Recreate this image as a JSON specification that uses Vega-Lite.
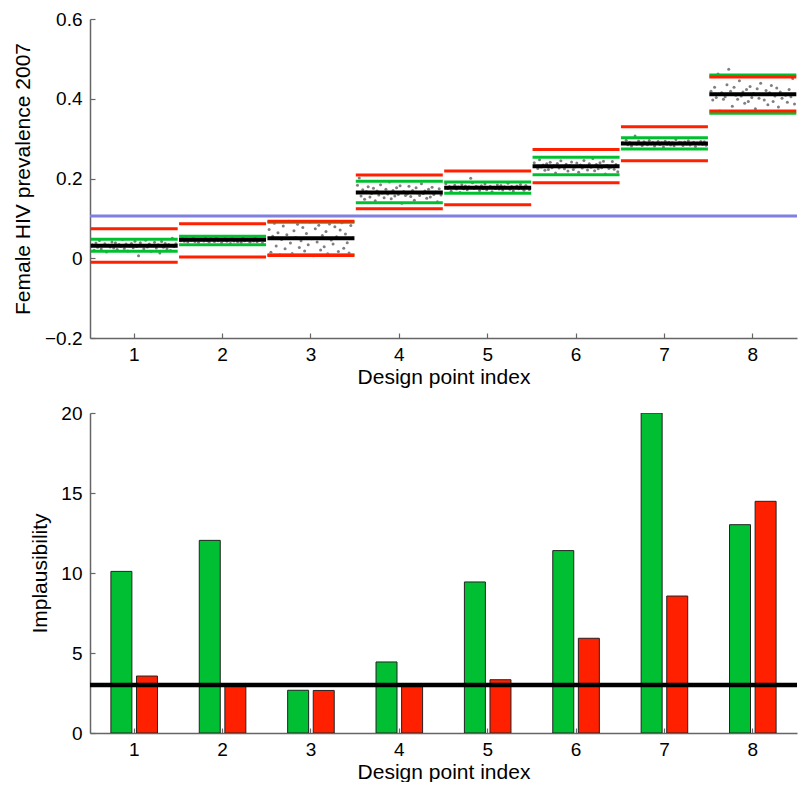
{
  "$schema": "https://vega.github.io/schema/vega-lite/v6.json",
  "padding": {"left": 12, "top": 10, "right": 0, "bottom": 0},
  "background": "white",
  "config": {
    "font": "Liberation Sans",
    "view": {"stroke": null},
    "axis": {
      "grid": false,
      "labelFontSize": 19,
      "titleFontSize": 21,
      "titleFontWeight": "normal",
      "labelColor": "black",
      "titleColor": "black",
      "domainColor": "#666666",
      "tickColor": "#666666",
      "domainWidth": 1.5,
      "tickWidth": 1.2,
      "labelFont": "Liberation Sans",
      "titleFont": "Liberation Sans"
    }
  },
  "datasets": {
    "pts": [
      {"dp":1,"jx":-0.49,"y":0.0337},{"dp":1,"jx":-0.469,"y":0.0202},{"dp":1,"jx":-0.448,"y":0.0382},{"dp":1,"jx":-0.428,"y":0.0274},{"dp":1,"jx":-0.407,"y":0.0445},{"dp":1,"jx":-0.386,"y":0.0229},{"dp":1,"jx":-0.365,"y":0.0319},{"dp":1,"jx":-0.344,"y":0.0364},{"dp":1,"jx":-0.324,"y":0.0157},{"dp":1,"jx":-0.303,"y":0.0328},{"dp":1,"jx":-0.282,"y":0.0283},{"dp":1,"jx":-0.261,"y":0.0409},{"dp":1,"jx":-0.24,"y":0.0256},{"dp":1,"jx":-0.22,"y":0.0391},{"dp":1,"jx":-0.199,"y":0.022},{"dp":1,"jx":-0.178,"y":0.0346},{"dp":1,"jx":-0.157,"y":0.0301},{"dp":1,"jx":-0.136,"y":0.0472},{"dp":1,"jx":-0.116,"y":0.0247},{"dp":1,"jx":-0.095,"y":0.0355},{"dp":1,"jx":-0.074,"y":0.0184},{"dp":1,"jx":-0.053,"y":0.031},{"dp":1,"jx":-0.032,"y":0.0373},{"dp":1,"jx":-0.012,"y":0.0265},{"dp":1,"jx":0.009,"y":0.0427},{"dp":1,"jx":0.03,"y":0.0292},{"dp":1,"jx":0.051,"y":0.0065},{"dp":1,"jx":0.072,"y":0.0391},{"dp":1,"jx":0.092,"y":0.0328},{"dp":1,"jx":0.113,"y":0.0238},{"dp":1,"jx":0.134,"y":0.0454},{"dp":1,"jx":0.155,"y":0.0283},{"dp":1,"jx":0.176,"y":0.0355},{"dp":1,"jx":0.196,"y":0.0175},{"dp":1,"jx":0.217,"y":0.0319},{"dp":1,"jx":0.238,"y":0.04},{"dp":1,"jx":0.259,"y":0.0256},{"dp":1,"jx":0.28,"y":0.0337},{"dp":1,"jx":0.3,"y":0.013},{"dp":1,"jx":0.321,"y":0.0418},{"dp":1,"jx":0.342,"y":0.0274},{"dp":1,"jx":0.363,"y":0.0373},{"dp":1,"jx":0.384,"y":0.0229},{"dp":1,"jx":0.404,"y":0.0346},{"dp":1,"jx":0.425,"y":0.0193},{"dp":1,"jx":0.446,"y":0.0499},{"dp":1,"jx":0.467,"y":0.0292},{"dp":1,"jx":0.488,"y":0.0364},
      {"dp":2,"jx":-0.49,"y":0.0438},{"dp":2,"jx":-0.469,"y":0.0494},{"dp":2,"jx":-0.448,"y":0.0426},{"dp":2,"jx":-0.428,"y":0.0486},{"dp":2,"jx":-0.407,"y":0.041},{"dp":2,"jx":-0.386,"y":0.0466},{"dp":2,"jx":-0.365,"y":0.0446},{"dp":2,"jx":-0.344,"y":0.0522},{"dp":2,"jx":-0.324,"y":0.0422},{"dp":2,"jx":-0.303,"y":0.047},{"dp":2,"jx":-0.282,"y":0.0394},{"dp":2,"jx":-0.261,"y":0.045},{"dp":2,"jx":-0.24,"y":0.0478},{"dp":2,"jx":-0.22,"y":0.043},{"dp":2,"jx":-0.199,"y":0.0502},{"dp":2,"jx":-0.178,"y":0.0442},{"dp":2,"jx":-0.157,"y":0.0406},{"dp":2,"jx":-0.136,"y":0.0486},{"dp":2,"jx":-0.116,"y":0.0458},{"dp":2,"jx":-0.095,"y":0.0418},{"dp":2,"jx":-0.074,"y":0.0514},{"dp":2,"jx":-0.053,"y":0.0438},{"dp":2,"jx":-0.032,"y":0.047},{"dp":2,"jx":-0.012,"y":0.039},{"dp":2,"jx":0.009,"y":0.0454},{"dp":2,"jx":0.03,"y":0.049},{"dp":2,"jx":0.051,"y":0.0426},{"dp":2,"jx":0.072,"y":0.0462},{"dp":2,"jx":0.092,"y":0.037},{"dp":2,"jx":0.113,"y":0.0498},{"dp":2,"jx":0.134,"y":0.0434},{"dp":2,"jx":0.155,"y":0.0478},{"dp":2,"jx":0.176,"y":0.0414},{"dp":2,"jx":0.196,"y":0.0466},{"dp":2,"jx":0.217,"y":0.0398},{"dp":2,"jx":0.238,"y":0.0534},{"dp":2,"jx":0.259,"y":0.0442},{"dp":2,"jx":0.28,"y":0.0474},{"dp":2,"jx":0.3,"y":0.0462},{"dp":2,"jx":0.321,"y":0.0402},{"dp":2,"jx":0.342,"y":0.0482},{"dp":2,"jx":0.363,"y":0.0434},{"dp":2,"jx":0.384,"y":0.051},{"dp":2,"jx":0.404,"y":0.0414},{"dp":2,"jx":0.425,"y":0.0454},{"dp":2,"jx":0.446,"y":0.0474},{"dp":2,"jx":0.467,"y":0.0382},{"dp":2,"jx":0.488,"y":0.0458},
      {"dp":3,"jx":-0.49,"y":0.072},{"dp":3,"jx":-0.469,"y":0.015},{"dp":3,"jx":-0.448,"y":0.055},{"dp":3,"jx":-0.428,"y":0.088},{"dp":3,"jx":-0.407,"y":0.031},{"dp":3,"jx":-0.386,"y":0.064},{"dp":3,"jx":-0.365,"y":0.009},{"dp":3,"jx":-0.344,"y":0.047},{"dp":3,"jx":-0.324,"y":0.081},{"dp":3,"jx":-0.303,"y":0.024},{"dp":3,"jx":-0.282,"y":0.059},{"dp":3,"jx":-0.261,"y":0.093},{"dp":3,"jx":-0.24,"y":0.038},{"dp":3,"jx":-0.22,"y":0.012},{"dp":3,"jx":-0.199,"y":0.069},{"dp":3,"jx":-0.178,"y":0.052},{"dp":3,"jx":-0.157,"y":0.085},{"dp":3,"jx":-0.136,"y":0.027},{"dp":3,"jx":-0.116,"y":0.044},{"dp":3,"jx":-0.095,"y":0.077},{"dp":3,"jx":-0.074,"y":0.018},{"dp":3,"jx":-0.053,"y":0.062},{"dp":3,"jx":-0.032,"y":0.034},{"dp":3,"jx":-0.012,"y":0.091},{"dp":3,"jx":0.009,"y":0.049},{"dp":3,"jx":0.03,"y":0.006},{"dp":3,"jx":0.051,"y":0.074},{"dp":3,"jx":0.072,"y":0.041},{"dp":3,"jx":0.092,"y":0.083},{"dp":3,"jx":0.113,"y":0.021},{"dp":3,"jx":0.134,"y":0.057},{"dp":3,"jx":0.155,"y":0.029},{"dp":3,"jx":0.176,"y":0.067},{"dp":3,"jx":0.196,"y":0.011},{"dp":3,"jx":0.217,"y":0.086},{"dp":3,"jx":0.238,"y":0.046},{"dp":3,"jx":0.259,"y":0.036},{"dp":3,"jx":0.28,"y":0.079},{"dp":3,"jx":0.3,"y":0.054},{"dp":3,"jx":0.321,"y":0.017},{"dp":3,"jx":0.342,"y":0.071},{"dp":3,"jx":0.363,"y":0.089},{"dp":3,"jx":0.384,"y":0.025},{"dp":3,"jx":0.404,"y":0.061},{"dp":3,"jx":0.425,"y":0.039},{"dp":3,"jx":0.446,"y":0.013},{"dp":3,"jx":0.467,"y":0.082},{"dp":3,"jx":0.488,"y":0.051},
      {"dp":4,"jx":-0.49,"y":0.1832},{"dp":4,"jx":-0.469,"y":0.2015},{"dp":4,"jx":-0.448,"y":0.1559},{"dp":4,"jx":-0.428,"y":0.1715},{"dp":4,"jx":-0.407,"y":0.1481},{"dp":4,"jx":-0.386,"y":0.1676},{"dp":4,"jx":-0.365,"y":0.1793},{"dp":4,"jx":-0.344,"y":0.1533},{"dp":4,"jx":-0.324,"y":0.1624},{"dp":4,"jx":-0.303,"y":0.1754},{"dp":4,"jx":-0.282,"y":0.1442},{"dp":4,"jx":-0.261,"y":0.1689},{"dp":4,"jx":-0.24,"y":0.1585},{"dp":4,"jx":-0.22,"y":0.1845},{"dp":4,"jx":-0.199,"y":0.1637},{"dp":4,"jx":-0.178,"y":0.152},{"dp":4,"jx":-0.157,"y":0.1728},{"dp":4,"jx":-0.136,"y":0.1611},{"dp":4,"jx":-0.116,"y":0.191},{"dp":4,"jx":-0.095,"y":0.1494},{"dp":4,"jx":-0.074,"y":0.1702},{"dp":4,"jx":-0.053,"y":0.1559},{"dp":4,"jx":-0.032,"y":0.1767},{"dp":4,"jx":-0.012,"y":0.1598},{"dp":4,"jx":0.009,"y":0.1819},{"dp":4,"jx":0.03,"y":0.1377},{"dp":4,"jx":0.051,"y":0.1676},{"dp":4,"jx":0.072,"y":0.1572},{"dp":4,"jx":0.092,"y":0.1611},{"dp":4,"jx":0.113,"y":0.1806},{"dp":4,"jx":0.134,"y":0.1546},{"dp":4,"jx":0.155,"y":0.1702},{"dp":4,"jx":0.176,"y":0.1455},{"dp":4,"jx":0.196,"y":0.1767},{"dp":4,"jx":0.217,"y":0.1637},{"dp":4,"jx":0.238,"y":0.1572},{"dp":4,"jx":0.259,"y":0.1871},{"dp":4,"jx":0.28,"y":0.1624},{"dp":4,"jx":0.3,"y":0.1689},{"dp":4,"jx":0.321,"y":0.1507},{"dp":4,"jx":0.342,"y":0.1728},{"dp":4,"jx":0.363,"y":0.1533},{"dp":4,"jx":0.384,"y":0.178},{"dp":4,"jx":0.404,"y":0.1598},{"dp":4,"jx":0.425,"y":0.1663},{"dp":4,"jx":0.446,"y":0.1416},{"dp":4,"jx":0.467,"y":0.1741},{"dp":4,"jx":0.488,"y":0.1585},
      {"dp":5,"jx":-0.49,"y":0.1866},{"dp":5,"jx":-0.469,"y":0.1752},{"dp":5,"jx":-0.448,"y":0.18},{"dp":5,"jx":-0.428,"y":0.168},{"dp":5,"jx":-0.407,"y":0.1776},{"dp":5,"jx":-0.386,"y":0.183},{"dp":5,"jx":-0.365,"y":0.1734},{"dp":5,"jx":-0.344,"y":0.1788},{"dp":5,"jx":-0.324,"y":0.165},{"dp":5,"jx":-0.303,"y":0.1842},{"dp":5,"jx":-0.282,"y":0.1746},{"dp":5,"jx":-0.261,"y":0.1812},{"dp":5,"jx":-0.24,"y":0.1716},{"dp":5,"jx":-0.22,"y":0.1794},{"dp":5,"jx":-0.199,"y":0.2005},{"dp":5,"jx":-0.178,"y":0.1896},{"dp":5,"jx":-0.157,"y":0.1758},{"dp":5,"jx":-0.136,"y":0.1806},{"dp":5,"jx":-0.116,"y":0.1788},{"dp":5,"jx":-0.095,"y":0.1698},{"dp":5,"jx":-0.074,"y":0.1818},{"dp":5,"jx":-0.053,"y":0.1746},{"dp":5,"jx":-0.032,"y":0.186},{"dp":5,"jx":-0.012,"y":0.1716},{"dp":5,"jx":0.009,"y":0.1776},{"dp":5,"jx":0.03,"y":0.1806},{"dp":5,"jx":0.051,"y":0.1668},{"dp":5,"jx":0.072,"y":0.1782},{"dp":5,"jx":0.092,"y":0.1752},{"dp":5,"jx":0.113,"y":0.1836},{"dp":5,"jx":0.134,"y":0.1734},{"dp":5,"jx":0.155,"y":0.1824},{"dp":5,"jx":0.176,"y":0.171},{"dp":5,"jx":0.196,"y":0.1794},{"dp":5,"jx":0.217,"y":0.1764},{"dp":5,"jx":0.238,"y":0.1878},{"dp":5,"jx":0.259,"y":0.1728},{"dp":5,"jx":0.28,"y":0.18},{"dp":5,"jx":0.3,"y":0.1686},{"dp":5,"jx":0.321,"y":0.177},{"dp":5,"jx":0.342,"y":0.1812},{"dp":5,"jx":0.363,"y":0.174},{"dp":5,"jx":0.384,"y":0.1848},{"dp":5,"jx":0.404,"y":0.1758},{"dp":5,"jx":0.425,"y":0.1704},{"dp":5,"jx":0.446,"y":0.1824},{"dp":5,"jx":0.467,"y":0.1782},{"dp":5,"jx":0.488,"y":0.1722},
      {"dp":6,"jx":-0.49,"y":0.2396},{"dp":6,"jx":-0.469,"y":0.2301},{"dp":6,"jx":-0.448,"y":0.2253},{"dp":6,"jx":-0.428,"y":0.2472},{"dp":6,"jx":-0.407,"y":0.2291},{"dp":6,"jx":-0.386,"y":0.2339},{"dp":6,"jx":-0.365,"y":0.2206},{"dp":6,"jx":-0.344,"y":0.2367},{"dp":6,"jx":-0.324,"y":0.2225},{"dp":6,"jx":-0.303,"y":0.2405},{"dp":6,"jx":-0.282,"y":0.2272},{"dp":6,"jx":-0.261,"y":0.232},{"dp":6,"jx":-0.24,"y":0.2139},{"dp":6,"jx":-0.22,"y":0.2377},{"dp":6,"jx":-0.199,"y":0.2263},{"dp":6,"jx":-0.178,"y":0.2443},{"dp":6,"jx":-0.157,"y":0.231},{"dp":6,"jx":-0.136,"y":0.2244},{"dp":6,"jx":-0.116,"y":0.2358},{"dp":6,"jx":-0.095,"y":0.2187},{"dp":6,"jx":-0.074,"y":0.2329},{"dp":6,"jx":-0.053,"y":0.2415},{"dp":6,"jx":-0.032,"y":0.2225},{"dp":6,"jx":-0.012,"y":0.2291},{"dp":6,"jx":0.009,"y":0.2386},{"dp":6,"jx":0.03,"y":0.2158},{"dp":6,"jx":0.051,"y":0.2339},{"dp":6,"jx":0.072,"y":0.2263},{"dp":6,"jx":0.092,"y":0.2453},{"dp":6,"jx":0.113,"y":0.2301},{"dp":6,"jx":0.134,"y":0.2215},{"dp":6,"jx":0.155,"y":0.2367},{"dp":6,"jx":0.176,"y":0.2282},{"dp":6,"jx":0.196,"y":0.25},{"dp":6,"jx":0.217,"y":0.2196},{"dp":6,"jx":0.238,"y":0.2348},{"dp":6,"jx":0.259,"y":0.2244},{"dp":6,"jx":0.28,"y":0.2396},{"dp":6,"jx":0.3,"y":0.2272},{"dp":6,"jx":0.321,"y":0.2434},{"dp":6,"jx":0.342,"y":0.211},{"dp":6,"jx":0.363,"y":0.2329},{"dp":6,"jx":0.384,"y":0.2253},{"dp":6,"jx":0.404,"y":0.2282},{"dp":6,"jx":0.425,"y":0.2424},{"dp":6,"jx":0.446,"y":0.2234},{"dp":6,"jx":0.467,"y":0.2348},{"dp":6,"jx":0.488,"y":0.2168},
      {"dp":7,"jx":-0.49,"y":0.2898},{"dp":7,"jx":-0.469,"y":0.2876},{"dp":7,"jx":-0.448,"y":0.2961},{"dp":7,"jx":-0.428,"y":0.2849},{"dp":7,"jx":-0.407,"y":0.2903},{"dp":7,"jx":-0.386,"y":0.2817},{"dp":7,"jx":-0.365,"y":0.288},{"dp":7,"jx":-0.344,"y":0.3065},{"dp":7,"jx":-0.324,"y":0.2858},{"dp":7,"jx":-0.303,"y":0.2939},{"dp":7,"jx":-0.282,"y":0.2871},{"dp":7,"jx":-0.261,"y":0.283},{"dp":7,"jx":-0.24,"y":0.2921},{"dp":7,"jx":-0.22,"y":0.2889},{"dp":7,"jx":-0.199,"y":0.2844},{"dp":7,"jx":-0.178,"y":0.2952},{"dp":7,"jx":-0.157,"y":0.2867},{"dp":7,"jx":-0.136,"y":0.2903},{"dp":7,"jx":-0.116,"y":0.2813},{"dp":7,"jx":-0.095,"y":0.2885},{"dp":7,"jx":-0.074,"y":0.2925},{"dp":7,"jx":-0.053,"y":0.2853},{"dp":7,"jx":-0.032,"y":0.2894},{"dp":7,"jx":-0.012,"y":0.279},{"dp":7,"jx":0.009,"y":0.2934},{"dp":7,"jx":0.03,"y":0.2862},{"dp":7,"jx":0.051,"y":0.2912},{"dp":7,"jx":0.072,"y":0.284},{"dp":7,"jx":0.092,"y":0.2898},{"dp":7,"jx":0.113,"y":0.2822},{"dp":7,"jx":0.134,"y":0.2975},{"dp":7,"jx":0.155,"y":0.2871},{"dp":7,"jx":0.176,"y":0.2907},{"dp":7,"jx":0.196,"y":0.2894},{"dp":7,"jx":0.217,"y":0.2826},{"dp":7,"jx":0.238,"y":0.2916},{"dp":7,"jx":0.259,"y":0.2862},{"dp":7,"jx":0.28,"y":0.2948},{"dp":7,"jx":0.3,"y":0.284},{"dp":7,"jx":0.321,"y":0.2885},{"dp":7,"jx":0.342,"y":0.2907},{"dp":7,"jx":0.363,"y":0.2804},{"dp":7,"jx":0.384,"y":0.2889},{"dp":7,"jx":0.404,"y":0.2867},{"dp":7,"jx":0.425,"y":0.293},{"dp":7,"jx":0.446,"y":0.2853},{"dp":7,"jx":0.467,"y":0.2921},{"dp":7,"jx":0.488,"y":0.2835},
      {"dp":8,"jx":-0.49,"y":0.419},{"dp":8,"jx":-0.469,"y":0.397},{"dp":8,"jx":-0.448,"y":0.429},{"dp":8,"jx":-0.428,"y":0.403},{"dp":8,"jx":-0.407,"y":0.462},{"dp":8,"jx":-0.386,"y":0.369},{"dp":8,"jx":-0.365,"y":0.415},{"dp":8,"jx":-0.344,"y":0.399},{"dp":8,"jx":-0.324,"y":0.405},{"dp":8,"jx":-0.303,"y":0.435},{"dp":8,"jx":-0.282,"y":0.474},{"dp":8,"jx":-0.261,"y":0.419},{"dp":8,"jx":-0.24,"y":0.381},{"dp":8,"jx":-0.22,"y":0.429},{"dp":8,"jx":-0.199,"y":0.409},{"dp":8,"jx":-0.178,"y":0.399},{"dp":8,"jx":-0.157,"y":0.445},{"dp":8,"jx":-0.136,"y":0.407},{"dp":8,"jx":-0.116,"y":0.417},{"dp":8,"jx":-0.095,"y":0.389},{"dp":8,"jx":-0.074,"y":0.423},{"dp":8,"jx":-0.053,"y":0.393},{"dp":8,"jx":-0.032,"y":0.431},{"dp":8,"jx":-0.012,"y":0.403},{"dp":8,"jx":0.009,"y":0.413},{"dp":8,"jx":0.03,"y":0.375},{"dp":8,"jx":0.051,"y":0.425},{"dp":8,"jx":0.072,"y":0.401},{"dp":8,"jx":0.092,"y":0.439},{"dp":8,"jx":0.113,"y":0.411},{"dp":8,"jx":0.134,"y":0.397},{"dp":8,"jx":0.155,"y":0.421},{"dp":8,"jx":0.176,"y":0.385},{"dp":8,"jx":0.196,"y":0.415},{"dp":8,"jx":0.217,"y":0.433},{"dp":8,"jx":0.238,"y":0.393},{"dp":8,"jx":0.259,"y":0.407},{"dp":8,"jx":0.28,"y":0.427},{"dp":8,"jx":0.3,"y":0.379},{"dp":8,"jx":0.321,"y":0.417},{"dp":8,"jx":0.342,"y":0.401},{"dp":8,"jx":0.363,"y":0.458},{"dp":8,"jx":0.384,"y":0.409},{"dp":8,"jx":0.404,"y":0.391},{"dp":8,"jx":0.425,"y":0.423},{"dp":8,"jx":0.446,"y":0.405},{"dp":8,"jx":0.467,"y":0.451},{"dp":8,"jx":0.488,"y":0.387}
    ],
    "lines": [
      {"dp":1,"line":"green","v":0.0475},{"dp":1,"line":"green","v":0.0174},
      {"dp":2,"line":"green","v":0.055},{"dp":2,"line":"green","v":0.034},
      {"dp":3,"line":"green","v":0.0905},{"dp":3,"line":"green","v":0.0085},
      {"dp":4,"line":"green","v":0.193},{"dp":4,"line":"green","v":0.139},
      {"dp":5,"line":"green","v":0.191},{"dp":5,"line":"green","v":0.163},
      {"dp":6,"line":"green","v":0.253},{"dp":6,"line":"green","v":0.2096},
      {"dp":7,"line":"green","v":0.302},{"dp":7,"line":"green","v":0.274},
      {"dp":8,"line":"green","v":0.4596},{"dp":8,"line":"green","v":0.3635},
      {"dp":1,"line":"red","v":0.074},{"dp":1,"line":"red","v":-0.01},
      {"dp":2,"line":"red","v":0.0867},{"dp":2,"line":"red","v":0.003},
      {"dp":3,"line":"red","v":0.0925},{"dp":3,"line":"red","v":0.007},
      {"dp":4,"line":"red","v":0.2088},{"dp":4,"line":"red","v":0.124},
      {"dp":5,"line":"red","v":0.2188},{"dp":5,"line":"red","v":0.134},
      {"dp":6,"line":"red","v":0.273},{"dp":6,"line":"red","v":0.1895},
      {"dp":7,"line":"red","v":0.33},{"dp":7,"line":"red","v":0.2447},
      {"dp":8,"line":"red","v":0.4545},{"dp":8,"line":"red","v":0.369},
      {"dp":1,"line":"mean","v":0.0315},{"dp":2,"line":"mean","v":0.0465},
      {"dp":3,"line":"mean","v":0.05},{"dp":4,"line":"mean","v":0.165},
      {"dp":5,"line":"mean","v":0.177},{"dp":6,"line":"mean","v":0.2305},
      {"dp":7,"line":"mean","v":0.288},{"dp":8,"line":"mean","v":0.411}
    ],
    "bars": [
      {"dp":1,"series":"green","v":10.1},{"dp":1,"series":"red","v":3.56},
      {"dp":2,"series":"green","v":12.04},{"dp":2,"series":"red","v":2.95},
      {"dp":3,"series":"green","v":2.67},{"dp":3,"series":"red","v":2.66},
      {"dp":4,"series":"green","v":4.44},{"dp":4,"series":"red","v":2.9},
      {"dp":5,"series":"green","v":9.44},{"dp":5,"series":"red","v":3.33},
      {"dp":6,"series":"green","v":11.4},{"dp":6,"series":"red","v":5.92},
      {"dp":7,"series":"green","v":20.0},{"dp":7,"series":"red","v":8.56},
      {"dp":8,"series":"green","v":13.02},{"dp":8,"series":"red","v":14.48}
    ],
    "refs": [
      {"panel":"prevalence","level":0.106},
      {"panel":"implausibility","level":3}
    ]
  },
  "vconcat": [
    {
      "width": 707,
      "height": 319,
      "layer": [
        {
          "data": {"name": "pts"},
          "mark": {"type": "circle", "size": 9, "color": "#7f7f7f", "opacity": 1},
          "encoding": {
            "x": {"field": "dp", "type": "ordinal", "scale": {"paddingInner": 0, "paddingOuter": 0},
                  "axis": {"title": "Design point index", "labelAngle": 0, "tickSize": -5, "labelPadding": 12, "titlePadding": 2}},
            "xOffset": {"field": "jx", "type": "quantitative", "scale": {"domain": [-0.5, 0.5], "range": [1.5, 86.9]}},
            "y": {"field": "y", "type": "quantitative", "scale": {"domain": [-0.2, 0.6], "nice": false},
                  "axis": {"title": "Female HIV prevalence 2007", "values": [-0.2, 0, 0.2, 0.4, 0.6],
                           "labelExpr": "datum.value == 0 ? '0' : format(datum.value, '.1f')",
                           "tickSize": -5, "labelPadding": 13, "titlePadding": 11}}
          }
        },
        {
          "data": {"name": "lines"},
          "transform": [{"filter": "datum.line == 'green'"}],
          "mark": {"type": "tick", "orient": "horizontal", "thickness": 3, "size": 87, "color": "#00c030", "opacity": 1},
          "encoding": {
            "x": {"field": "dp", "type": "ordinal"},
            "y": {"field": "v", "type": "quantitative"}
          }
        },
        {
          "data": {"name": "lines"},
          "transform": [{"filter": "datum.line == 'red'"}],
          "mark": {"type": "tick", "orient": "horizontal", "thickness": 3, "size": 87, "color": "#ff2000", "opacity": 1},
          "encoding": {
            "x": {"field": "dp", "type": "ordinal"},
            "y": {"field": "v", "type": "quantitative"}
          }
        },
        {
          "data": {"name": "lines"},
          "transform": [{"filter": "datum.line == 'mean'"}],
          "mark": {"type": "tick", "orient": "horizontal", "thickness": 4, "size": 87, "color": "black", "opacity": 1},
          "encoding": {
            "x": {"field": "dp", "type": "ordinal"},
            "y": {"field": "v", "type": "quantitative"}
          }
        },
        {
          "data": {"name": "refs"},
          "transform": [{"filter": "datum.panel == 'prevalence'"}],
          "mark": {"type": "rule", "color": "#8080e0", "strokeWidth": 3},
          "encoding": {"y": {"field": "level", "type": "quantitative"}}
        }
      ]
    },
    {
      "width": 707,
      "height": 320,
      "layer": [
        {
          "data": {"name": "bars"},
          "mark": {"type": "bar", "stroke": "#222222", "strokeWidth": 1, "clip": true},
          "encoding": {
            "x": {"field": "dp", "type": "ordinal", "scale": {"paddingInner": 0.473, "paddingOuter": 0.2365},
                  "axis": {"title": "Design point index", "labelAngle": 0, "tickSize": -5, "labelPadding": 12, "titlePadding": 2}},
            "xOffset": {"field": "series", "type": "nominal", "scale": {"domain": ["green", "red"], "paddingInner": 0.18, "paddingOuter": 0}},
            "y": {"field": "v", "type": "quantitative", "scale": {"domain": [0, 20], "nice": false},
                  "axis": {"title": "Implausibility", "values": [0, 5, 10, 15, 20], "tickSize": -5, "labelPadding": 13, "titlePadding": 10}},
            "color": {"field": "series", "type": "nominal", "scale": {"domain": ["green", "red"], "range": ["#00bf33", "#ff2000"]}, "legend": null}
          }
        },
        {
          "data": {"name": "refs"},
          "transform": [{"filter": "datum.panel == 'implausibility'"}],
          "mark": {"type": "rule", "color": "black", "strokeWidth": 4.5},
          "encoding": {"y": {"field": "level", "type": "quantitative"}}
        }
      ]
    }
  ],
  "spacing": 75,
  "bounds": "flush"
}
